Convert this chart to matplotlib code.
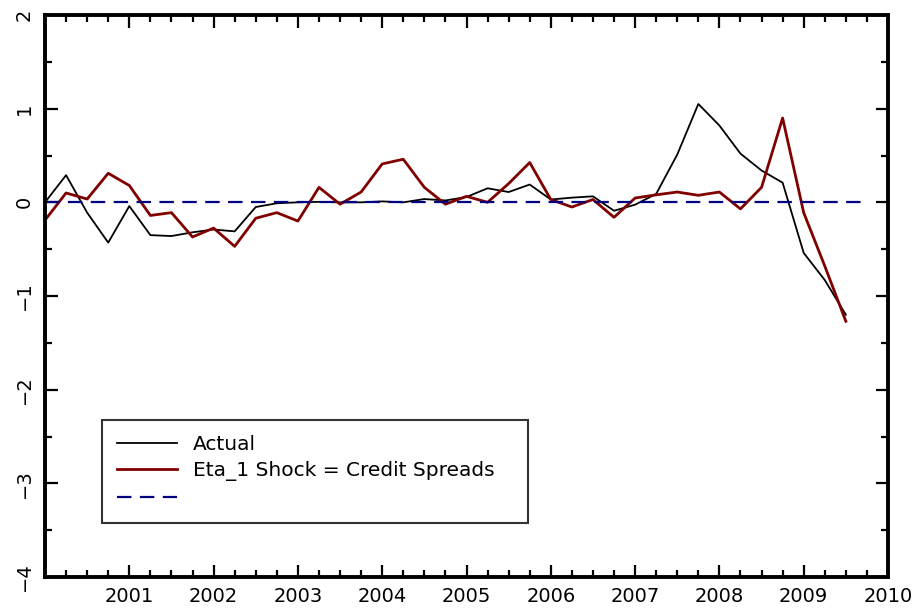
import matplotlib
matplotlib.use("Agg")
import matplotlib.pyplot as plt
from matplotlib.lines import Line2D
import numpy as np

# Quarterly dates 2000Q1 .. 2009Q3
start_year = 2000
n_quarters = 39
dates = [start_year + i / 4 for i in range(n_quarters)]

actual = [0.00, 0.29, -0.11, -0.43, -0.04, -0.35, -0.36, -0.32, -0.29, -0.31,
          -0.05, -0.01, 0.00, 0.005, 0.00, 0.00, 0.01, 0.00, 0.035, 0.02,
          0.057, 0.15, 0.11, 0.19, 0.03, 0.05, 0.064, -0.09, -0.025, 0.09,
          0.51, 1.05, 0.82, 0.52, 0.34, 0.21, -0.54, -0.83, -1.20]

eta1_credit = [-0.19, 0.10, 0.035, 0.31, 0.18, -0.14, -0.11, -0.37, -0.275, -0.47,
               -0.17, -0.11, -0.20, 0.16, -0.02, 0.11, 0.41, 0.46, 0.16, -0.02,
               0.064, 0.00, 0.20, 0.425, 0.03, -0.05, 0.03, -0.16, 0.046, 0.08,
               0.11, 0.075, 0.11, -0.07, 0.16, 0.90, -0.11, -0.68, -1.27]

zero_x = [2000.0, 2009.75]
zero_y = [0.0, 0.0]

labels = ["Actual", "Eta_1 Shock = Credit Spreads", " "]
x_ticks = list(range(2001, 2011))
y_ticks = [-4, -3, -2, -1, 0, 1, 2]

fig = plt.figure(figsize=(9.19, 6.08), dpi=100)
ax = fig.add_axes([45 / 919, 1 - 577 / 608, (888 - 45) / 919, (577 - 15) / 608])

l1, = ax.plot(dates, actual, color="black", lw=1.3)
l2, = ax.plot(dates, eta1_credit, color="#800000", lw=2.0)
l3, = ax.plot(zero_x, zero_y, color="#000080", lw=1.6, dashes=(6.5, 3.8))

ax.set_xlim(2000, 2010)
ax.set_ylim(-4, 2)
ax.set_xticks(x_ticks)
ax.set_xticks(np.arange(2000, 2010.01, 0.25), minor=True)
ax.set_yticks(y_ticks)
ax.set_yticks(np.arange(-4, 2.01, 0.5), minor=True)
ax.set_yticklabels([str(v).replace("-", "\u2212") for v in y_ticks], rotation=90, va="center")

for s in ax.spines.values():
    s.set_linewidth(2.8)

ax.tick_params(which="both", direction="in", top=True, right=True, width=1.6)
ax.tick_params(which="major", length=9, labelsize=14)
ax.tick_params(which="minor", length=5)
ax.tick_params(axis="x", which="major", pad=7)
ax.tick_params(axis="y", which="major", pad=8)

leg = ax.legend([l1, l2, l3], labels, loc="lower left",
                bbox_to_anchor=(0.0675, 0.096, 0.5055, 0.185), mode="expand",
                fontsize=14.5, frameon=True, fancybox=False, handlelength=3.0,
                borderpad=0.75, labelspacing=0.38, handletextpad=0.75, borderaxespad=0)
leg.get_frame().set_edgecolor("black")
leg.get_frame().set_linewidth(1.5)

fig.savefig("out.png", dpi=100)
